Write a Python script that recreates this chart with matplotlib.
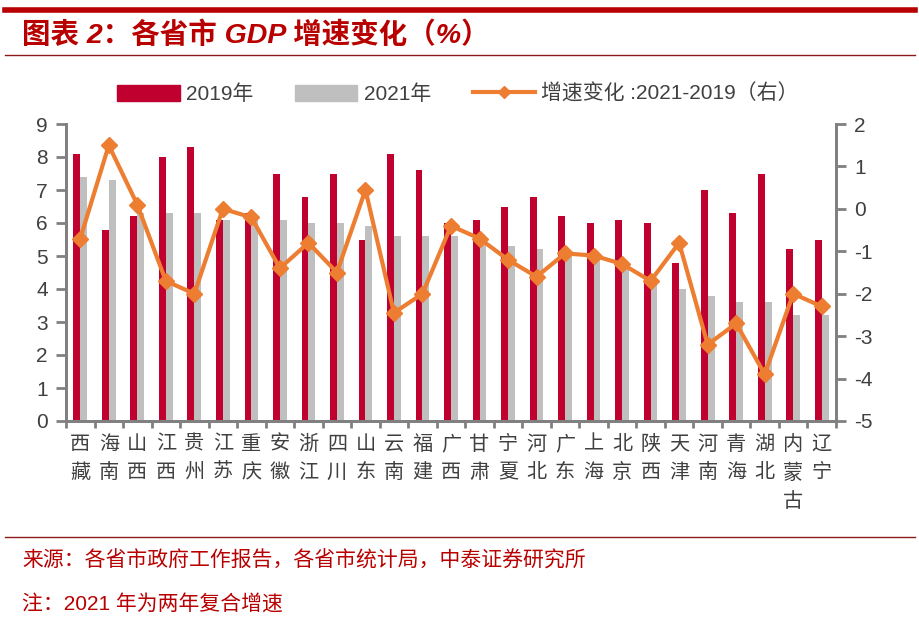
import numpy as np
import matplotlib.pyplot as plt
from matplotlib.lines import Line2D
from matplotlib.patches import Patch

plt.rcParams['font.family'] = ['Liberation Sans', 'Noto Sans CJK SC', 'DejaVu Sans']
plt.rcParams['axes.unicode_minus'] = False

# data
provinces = ["西藏", "海南", "山西", "江西", "贵州", "江苏", "重庆", "安徽", "浙江",
             "四川", "山东", "云南", "福建", "广西", "甘肃", "宁夏", "河北", "广东",
             "上海", "北京", "陕西", "天津", "河南", "青海", "湖北", "内蒙古", "辽宁"]
gdp_2019 = [8.1, 5.8, 6.2, 8.0, 8.3, 6.1, 6.3, 7.5, 6.8,
            7.5, 5.5, 8.1, 7.6, 6.0, 6.1, 6.5, 6.8, 6.2,
            6.0, 6.1, 6.0, 4.8, 7.0, 6.3, 7.5, 5.2, 5.5]
gdp_2021 = [7.4, 7.3, 6.3, 6.3, 6.3, 6.1, 6.1, 6.1, 6.0,
            6.0, 5.9, 5.6, 5.6, 5.6, 5.4, 5.3, 5.2, 5.1,
            4.9, 4.8, 4.3, 4.0, 3.8, 3.6, 3.6, 3.2, 3.2]
change = [-0.7, 1.5, 0.1, -1.7, -2.0, 0.0, -0.2, -1.4, -0.8,
          -1.5, 0.45, -2.45, -2.0, -0.4, -0.7, -1.2, -1.6, -1.05,
          -1.1, -1.3, -1.7, -0.8, -3.2, -2.7, -3.9, -2.0, -2.3]

RED = "#C0002F"
GRAY = "#BFBFBF"
ORANGE = "#ED7D31"
DARKRED = "#B80000"
AXIS = "#808080"
TXT = "#404040"

fig = plt.figure(figsize=(9.2, 6.18), dpi=100)

# header / footer rules
fig.add_artist(Line2D([5/920, 915/920], [1-10/618, 1-10/618], color=DARKRED, lw=4))
fig.add_artist(Line2D([5/920, 915/920], [1-55/618, 1-55/618], color="#8B1A1A", lw=1))
fig.add_artist(Line2D([5/920, 915/920], [1-537/618, 1-537/618], color="#8B1A1A", lw=1))
fig.text(22/920, 1-35/618, "图表 2：各省市 GDP 增速变化（%）", color=DARKRED,
         fontsize=20.5, fontweight="bold", style="italic", va="center", ha="left")
fig.text(22/920, 1-560/618, "来源：各省市政府工作报告，各省市统计局，中泰证券研究所",
         color=DARKRED, fontsize=15, va="center", ha="left")
fig.text(22/920, 1-604/618, "注：2021 年为两年复合增速",
         color=DARKRED, fontsize=15, va="center", ha="left")

ax = fig.add_axes([66/920, 1-421/618, 770/920, 297/618])
x = np.arange(len(provinces))
w = 0.24
ax.bar(x - w/2, gdp_2019, w, color=RED, zorder=2)
ax.bar(x + w/2, gdp_2021, w, color=GRAY, zorder=2)
ax.set_xlim(-0.5, len(provinces) - 0.5)
ax.set_ylim(0, 9)
ax.set_yticks(range(0, 10))
ax.set_xticks(x)
ax.set_xticklabels(["\n".join(p) for p in provinces], fontsize=14.5, color=TXT,
                   linespacing=1.62, va="top")
ax.set_xticks(np.arange(-0.5, len(provinces)), minor=True)
ax.tick_params(axis="x", which="major", length=0, pad=10)
ax.tick_params(axis="x", which="minor", length=5, width=2, color=AXIS, direction="out")
ax.tick_params(axis="y", length=7, width=2, color=AXIS, labelsize=15, labelcolor=TXT, pad=6)

ax2 = ax.twinx()
ax2.plot(x, change, color=ORANGE, lw=3, marker="D", markersize=8, zorder=3)
ax2.set_ylim(-5, 2)
ax2.set_yticks(range(-5, 3))
ax2.tick_params(axis="y", length=7, width=2, color=AXIS, labelsize=15, labelcolor=TXT, pad=6)

for a in (ax, ax2):
    a.spines["top"].set_visible(False)
    for s in ("left", "right", "bottom"):
        a.spines[s].set_color(AXIS)
        a.spines[s].set_linewidth(2)

handles = [Patch(color=RED), Patch(color=GRAY),
           Line2D([], [], color=ORANGE, lw=3, marker="D", markersize=6)]
labels = ["2019年", "2021年", "增速变化 :2021-2019（右）"]
fig.legend(handles, labels, loc="center", bbox_to_anchor=(458/920, 1-94/618), ncol=3,
           frameon=False, fontsize=15, handlelength=3.0, handleheight=0.8,
           handletextpad=0.3, columnspacing=2.0, labelcolor=TXT)

fig.savefig("out.png", dpi=100)
